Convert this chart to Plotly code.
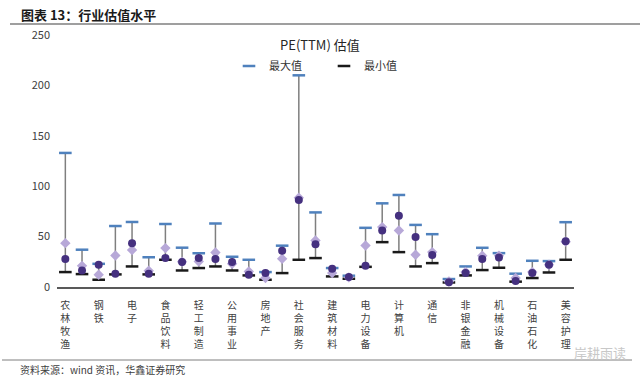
import plotly.graph_objects as go

categories = ["农林牧渔", "基础化工", "钢铁", "有色金属", "电子", "家用电器", "食品饮料", "纺织服饰",
              "轻工制造", "医药生物", "公用事业", "交通运输", "房地产", "商贸零售", "社会服务", "综合",
              "建筑材料", "建筑装饰", "电力设备", "国防军工", "计算机", "传媒", "通信", "银行",
              "非银金融", "汽车", "机械设备", "煤炭", "石油石化", "环保", "美容护理"]

pe_max = [133, 37, 23, 60.5, 64.5, 29.5, 62.5, 39, 33.5, 63, 30, 27, 14.8, 41, 210, 74,
          18.8, 11.2, 58.7, 83, 91.3, 61.6, 52.4, 7.9, 20.4, 38.9, 33.6, 13.2, 26, 25.7, 64.3]
pe_min = [14.8, 12.8, 7.2, 12.5, 20.4, 12.5, 27, 16.4, 18.8, 20.4, 16.4, 11.5, 7.2, 13.8, 27, 28.7,
          10.5, 8.2, 20, 44.5, 34.6, 20.4, 23.7, 4.5, 11.5, 16.8, 19.1, 5.3, 8.9, 14.4, 27]
pe_current = [27.7, 16.4, 22, 13.2, 43.5, 13.2, 28.7, 24.7, 28.7, 27.7, 24.7, 12.2, 14, 35.9, 86.4, 42.5,
              18, 9.8, 21, 56, 70.8, 49.5, 31.7, 4.6, 13.8, 27.7, 29.3, 5.9, 13.8, 22, 45.5]
pe_median = [43.5, 21, 12.2, 31.3, 36.6, 16.1, 38.6, 25, 25.3, 34.2, 23, 15.4, 8.9, 28, 88.6, 46.1,
             13.8, 9.5, 41.2, 59.4, 56, 32, 34.6, 5.5, 15, 31, 31, 8.9, 15, 22, 45]

label_cats = categories[::2]
label_text = ["<br>".join(list(c)) for c in label_cats]
y_ticks = [0, 50, 100, 150, 200, 250]

FONT = "Noto Sans CJK SC"
L, R, T, B = 57, 66, 35, 94
PW, PH = 640 - L - R, 381 - T - B


def px_x(x):
    return (x - L) / PW


def px_y(y):
    return (381 - B - y) / PH


# high-low lines
lx, ly = [], []
for c, lo, hi in zip(categories, pe_min, pe_max):
    lx += [c, c, None]
    ly += [lo, hi, None]

fig = go.Figure()
fig.add_trace(go.Scatter(x=lx, y=ly, mode="lines", line=dict(color="#7f7f7f", width=1.5),
                         showlegend=False, hoverinfo="skip"))
fig.add_trace(go.Scatter(x=categories, y=pe_max, mode="markers", name="最大值",
                         marker=dict(symbol="line-ew", size=9, color="#4f81bd",
                                     line=dict(color="#4f81bd", width=2.5))))
fig.add_trace(go.Scatter(x=categories, y=pe_min, mode="markers", name="最小值",
                         marker=dict(symbol="line-ew", size=9, color="#1a1a1a",
                                     line=dict(color="#1a1a1a", width=2.5))))
fig.add_trace(go.Scatter(x=categories, y=pe_median, mode="markers", name="中位数", showlegend=False,
                         marker=dict(symbol="diamond", size=8, color="#b7a8d8")))
fig.add_trace(go.Scatter(x=categories, y=pe_current, mode="markers", name="当前值", showlegend=False,
                         marker=dict(symbol="circle", size=8, color="#45307f")))

fig.update_layout(
    width=640, height=381,
    margin=dict(l=L, r=R, t=T, b=B, autoexpand=False),
    paper_bgcolor="white", plot_bgcolor="white",
    font=dict(family=FONT, color="#404040"),
    showlegend=True,
    legend=dict(orientation="h", x=px_x(229), y=px_y(66), xanchor="left", yanchor="middle",
                font=dict(size=11, color="#333333", family=FONT), bgcolor="rgba(0,0,0,0)",
                itemwidth=30, entrywidth=50, entrywidthmode="pixels", tracegroupgap=0),
    xaxis=dict(type="category", categoryorder="array", categoryarray=categories,
               tickmode="array", tickvals=label_cats, ticktext=label_text, tickangle=0,
               tickfont=dict(size=10, color="#404040", family=FONT), ticklabelstandoff=8,
               showline=True, linecolor="#595959", linewidth=1.5, showgrid=False,
               ticks="", zeroline=False, range=[-0.5, 30.5]),
    yaxis=dict(range=[0, 250], tickvals=y_ticks, showgrid=False, zeroline=False,
               showline=False, ticks="", ticklabelstandoff=6,
               tickfont=dict(size=11, color="#404040", family=FONT)),
    shapes=[
        dict(type="line", xref="paper", yref="paper", x0=px_x(10), x1=px_x(640),
             y0=px_y(24), y1=px_y(24), line=dict(color="#7f7f7f", width=1.5)),
        dict(type="line", xref="paper", yref="paper", x0=px_x(2), x1=px_x(632),
             y0=px_y(360), y1=px_y(360), line=dict(color="#7f7f7f", width=1)),
    ],
    annotations=[
        dict(text="<b>图表 13：行业估值水平</b>", xref="paper", yref="paper",
             x=px_x(19), y=px_y(14), xanchor="left", yanchor="middle",
             showarrow=False, font=dict(size=13, color="#1a1a1a", family=FONT)),
        dict(text="PE(TTM) 估值", xref="paper", yref="paper",
             x=px_x(320), y=px_y(45), xanchor="center", yanchor="middle",
             showarrow=False, font=dict(size=13, color="#262626", family=FONT)),
        dict(text="资料来源：wind 资讯，华鑫证券研究", xref="paper", yref="paper",
             x=px_x(18), y=px_y(369), xanchor="left", yanchor="middle",
             showarrow=False, font=dict(size=10, color="#404040", family=FONT)),
        dict(text="岸耕雨读", xref="paper", yref="paper",
             x=px_x(600), y=px_y(352), xanchor="center", yanchor="middle",
             showarrow=False, font=dict(size=13, color="#c8c8c8", family=FONT)),
    ],
)

fig.write_html("out.html", post_script="document.body.style.margin='0';",
               config={"displayModeBar": False})
